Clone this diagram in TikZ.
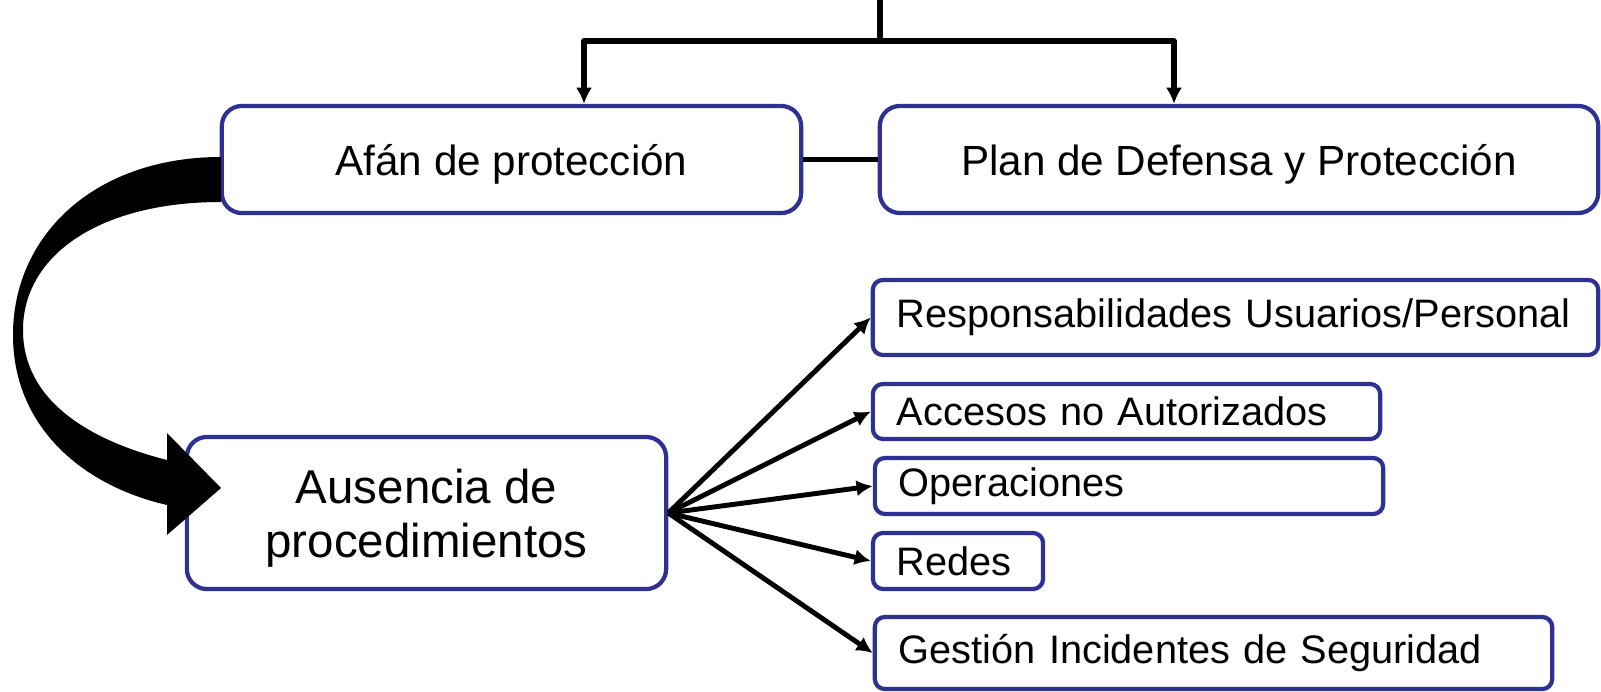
\documentclass[tikz,border=0pt]{standalone}
\usepackage{fontspec}
\setmainfont{Liberation Sans}
\usetikzlibrary{arrows.meta,calc}
\definecolor{boxblue}{RGB}{46,49,146}
\begin{document}
\begin{tikzpicture}[x=0.01cm, y=-0.01cm, line join=round, >={Latex[length=4.6pt,width=4.6pt]},
  bigbox/.style={draw=boxblue, line width=1.2pt, rounded corners=0.2cm, fill=white, inner sep=0pt, align=center, text depth=0pt},
  smallbox/.style={draw=boxblue, line width=1.2pt, rounded corners=0.1cm, fill=white, inner xsep=0.24cm, inner ysep=0pt, align=left, font=\fontsize{11.3}{13}\selectfont},
  topline/.style={line width=1.6pt},
  fan/.style={line width=1.4pt}]
 \useasboundingbox (0,0) rectangle (1601,691);
 % upper boxes
 \node[bigbox, minimum width=5.79cm, minimum height=1.07cm, font=\fontsize{12}{14}\selectfont] (afan) at (511.5,159.5) {Afán de protección};
 \node[bigbox, minimum width=7.18cm, minimum height=1.07cm, font=\fontsize{12}{14}\selectfont] (plan) at (1239,159.5) {Plan de Defensa y Protección};
 \node[bigbox, minimum width=4.79cm, minimum height=1.52cm, font=\fontsize{13.5}{15.4}\selectfont] (ausencia) at (426.5,513) {Ausencia de\\procedimientos};
 % list on the right
 \node[smallbox, text width=6.77cm, minimum height=0.75cm] (resp) at (1235.5,317.5) {\mbox{Responsabilidades Usuarios/Personal}};
 \node[smallbox, text width=4.59cm, minimum height=0.55cm] (accesos) at (1126.5,411.5) {Accesos no Autorizados};
 \node[smallbox, text width=4.60cm, minimum height=0.56cm] (oper) at (1129,486) {Operaciones};
 \node[smallbox, text width=1.22cm, minimum height=0.56cm] (redes) at (958,561) {Redes};
 \node[smallbox, text width=6.29cm, minimum height=0.72cm] (gestion) at (1213.5,653) {Gestión Incidentes de Seguridad};
 % fork at the top
 \coordinate (stem) at (880,0);
 \coordinate (fork) at (880,41);
 \draw[topline] (stem) -- (fork);
 \draw[topline,->] (fork) -| ($(afan.north)+(72.5,0)$);
 \draw[topline,->] (fork) -| ($(plan.north)+(-65,0)$);
 \draw[line width=1.4pt] (afan.east) -- (plan.west);
 \foreach \t in {resp,accesos,oper,redes,gestion}
   \draw[fan,->] (ausencia.east) -- (\t.west);
 % curved block arrow
 \fill (221,157) .. controls (95,157) and (13,235) .. (13,335)
   .. controls (13,425) and (80,485) .. (167,505)
   -- (167,535) -- (221,488) -- (167,433) -- (167,460)
   .. controls (88,440) and (23,400) .. (23,330)
   .. controls (23,255) and (100,202) .. (221,202) -- cycle;
\end{tikzpicture}
\end{document}
